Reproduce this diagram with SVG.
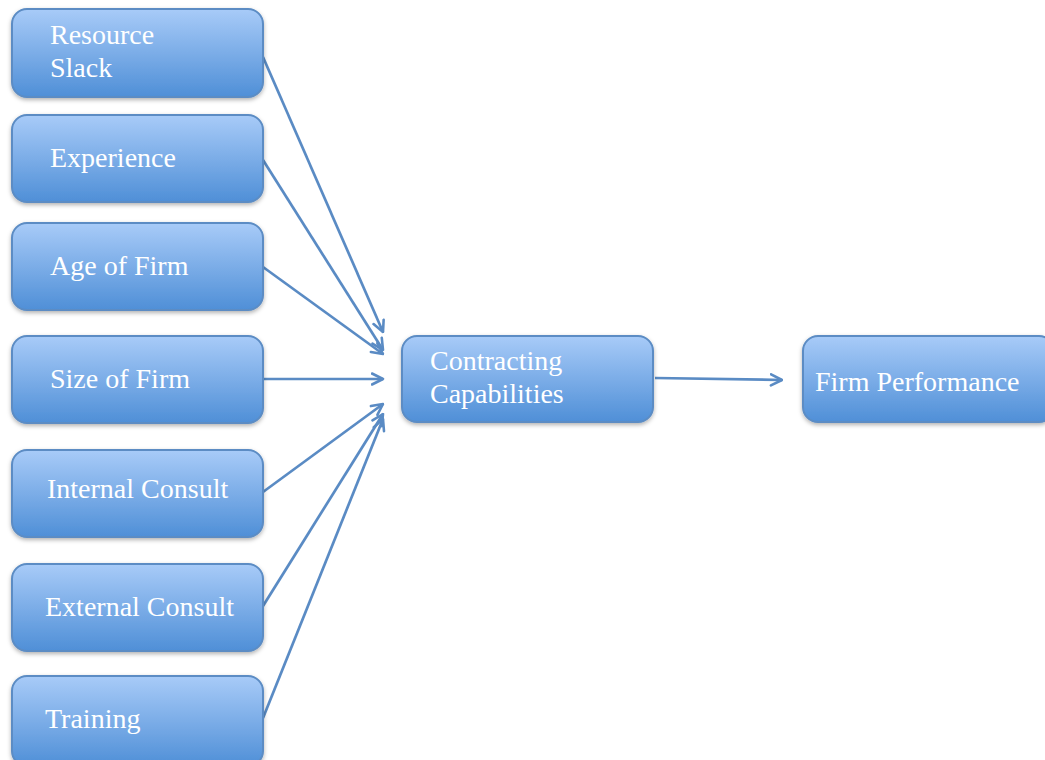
<svg xmlns="http://www.w3.org/2000/svg" width="1045" height="760" viewBox="0 0 1045 760">
<defs>
<linearGradient id="g" x1="0" y1="0" x2="0" y2="1">
<stop offset="0" stop-color="#a8cbf8"/>
<stop offset="1" stop-color="#4f8fd7"/>
</linearGradient>
<filter id="sh" x="-10%" y="-10%" width="120%" height="130%">
<feDropShadow dx="0" dy="2" stdDeviation="2" flood-color="#000" flood-opacity="0.3"/>
</filter>
<marker id="ah" viewBox="0 0 14 14" refX="12.5" refY="7" markerWidth="14" markerHeight="14" markerUnits="userSpaceOnUse" orient="auto">
<path d="M1.5,1.5 L12.5,7 L1.5,12.5" fill="none" stroke="#5a8bc4" stroke-width="2.6" stroke-linecap="round" stroke-linejoin="round"/>
</marker>
</defs>
<style>
.box{fill:url(#g);stroke:#5b8cc4;stroke-width:2;filter:url(#sh)}
.t{font-family:"Liberation Serif","Times New Roman",serif;font-size:28px;fill:#fff}
.c{stroke:#5a8bc4;stroke-width:2.7;fill:none;marker-end:url(#ah)}
</style>
<rect width="1045" height="760" fill="#fff"/>
<g id="connectors">
<line class="c" x1="263" y1="57" x2="383" y2="332"/>
<line class="c" x1="263" y1="160" x2="383" y2="350"/>
<line class="c" x1="263" y1="267" x2="383" y2="354"/>
<line class="c" x1="263" y1="379" x2="383" y2="379"/>
<line class="c" x1="263" y1="492" x2="383" y2="404"/>
<line class="c" x1="263" y1="606" x2="383" y2="414"/>
<line class="c" x1="263" y1="718" x2="383" y2="419"/>
<line class="c" x1="655" y1="378" x2="782" y2="380"/>
</g>
<g id="n1"><rect class="box" x="12" y="9" width="251" height="88" rx="15"/><text class="t" x="50" y="44">Resource</text><text class="t" x="50" y="77">Slack</text></g>
<g id="n2"><rect class="box" x="12" y="115" width="251" height="87" rx="15"/><text class="t" x="50" y="167">Experience</text></g>
<g id="n3"><rect class="box" x="12" y="223" width="251" height="87" rx="15"/><text class="t" x="50" y="275">Age of Firm</text></g>
<g id="n4"><rect class="box" x="12" y="336" width="251" height="87" rx="15"/><text class="t" x="50" y="388">Size of Firm</text></g>
<g id="n5"><rect class="box" x="12" y="450" width="251" height="87" rx="15"/><text class="t" x="47" y="498">Internal Consult</text></g>
<g id="n6"><rect class="box" x="12" y="564" width="251" height="87" rx="15"/><text class="t" x="45" y="616">External Consult</text></g>
<g id="n7"><rect class="box" x="12" y="676" width="251" height="90" rx="15"/><text class="t" x="45" y="728">Training</text></g>
<g id="n8"><rect class="box" x="402" y="336" width="251" height="86" rx="15"/><text class="t" x="430" y="370">Contracting</text><text class="t" x="430" y="403">Capabilities</text></g>
<g id="n9"><rect class="box" x="803" y="336" width="251" height="86" rx="15"/><text class="t" x="815" y="391">Firm Performance</text></g>
</svg>
